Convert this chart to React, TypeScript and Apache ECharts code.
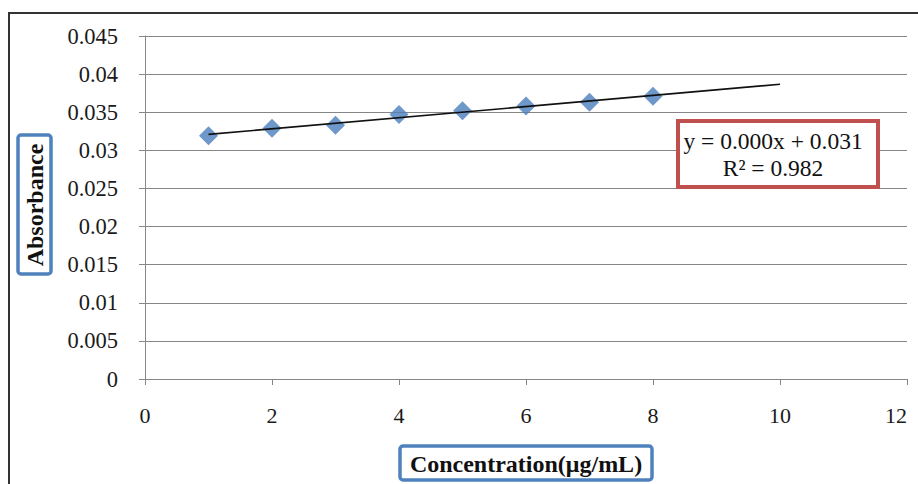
import React, { useEffect, useRef } from "react";
import * as echarts from "echarts";

const concentrations = [1, 2, 3, 4, 5, 6, 7, 8];
const absorbance = [0.0319, 0.0329, 0.0333, 0.0347, 0.0352, 0.0358, 0.0363, 0.0371];
const xTicks = { min: 0, max: 12, interval: 2 };
const yTicks = { min: 0, max: 0.045, interval: 0.005 };
const trendRange = [1, 10];
const equationLines = ["y = 0.000x + 0.031", "R\u00B2 = 0.982"];
const xTitle = "Concentration(\u03BCg/mL)";
const yTitle = "Absorbance";

function regression(xs: number[], ys: number[]) {
  const n = xs.length;
  const mx = xs.reduce((a, b) => a + b, 0) / n;
  const my = ys.reduce((a, b) => a + b, 0) / n;
  let sxy = 0, sxx = 0;
  for (let i = 0; i < n; i++) {
    sxy += (xs[i] - mx) * (ys[i] - my);
    sxx += (xs[i] - mx) * (xs[i] - mx);
  }
  const slope = sxy / sxx;
  return { slope, intercept: my - slope * mx };
}

const FONT = "'Liberation Serif', 'Times New Roman', serif";

export default function App() {
  const ref = useRef<HTMLDivElement>(null);
  useEffect(() => {
    if (!ref.current) return;
    const chart = echarts.init(ref.current, null, { renderer: "svg" });
    const { slope, intercept } = regression(concentrations, absorbance);
    const trend = trendRange.map((x) => [x, intercept + slope * x]);
    chart.setOption({
      animation: false,
      backgroundColor: "#ffffff",
      grid: { left: 145, right: 11, top: 36, bottom: 105 },
      xAxis: {
        type: "value",
        min: xTicks.min,
        max: xTicks.max,
        interval: xTicks.interval,
        axisLine: { show: true, lineStyle: { color: "#868686", width: 1 } },
        axisTick: { show: true, length: 6, lineStyle: { color: "#868686" } },
        splitLine: { show: false },
        axisLabel: {
          color: "#1a1a1a",
          fontFamily: FONT,
          fontSize: 22,
          margin: 25,
          alignMaxLabel: "right",
        },
      },
      yAxis: {
        type: "value",
        min: yTicks.min,
        max: yTicks.max,
        interval: yTicks.interval,
        axisLine: { show: true, lineStyle: { color: "#868686", width: 1 } },
        axisTick: { show: true, length: 6, lineStyle: { color: "#868686" } },
        splitLine: { show: true, lineStyle: { color: "#868686", width: 1 } },
        axisLabel: {
          color: "#1a1a1a",
          fontFamily: FONT,
          fontSize: 22.5,
          margin: 27,
          formatter: (v: number) => String(+v.toFixed(3)),
        },
      },
      series: [
        {
          type: "scatter",
          data: concentrations.map((x, i) => [x, absorbance[i]]),
          symbol: "diamond",
          symbolSize: 19,
          itemStyle: { color: "#4a7ebb" },
          z: 2,
        },
        {
          type: "line",
          data: trend,
          symbol: "none",
          lineStyle: { color: "#111111", width: 1.6 },
          z: 3,
        },
      ],
      graphic: [
        {
          type: "rect",
          x: 9,
          y: 13,
          shape: { width: 1000, height: 1000 },
          style: { fill: "none", stroke: "#333333", lineWidth: 2 },
          z: 10,
        },
        {
          type: "rect",
          x: 18,
          y: 135,
          shape: { width: 33, height: 139, r: 3 },
          style: { fill: "#ffffff", stroke: "#4f81bd", lineWidth: 3.5 },
          z: 10,
        },
        {
          type: "text",
          x: 35,
          y: 205,
          rotation: Math.PI / 2,
          style: {
            text: yTitle,
            fontFamily: FONT,
            fontWeight: "bold",
            fontSize: 24,
            fill: "#111111",
            align: "center",
            verticalAlign: "middle",
          },
          z: 11,
        },
        {
          type: "rect",
          x: 400,
          y: 446,
          shape: { width: 252, height: 34, r: 3 },
          style: { fill: "#ffffff", stroke: "#4f81bd", lineWidth: 3.5 },
          z: 10,
        },
        {
          type: "text",
          x: 526,
          y: 464,
          style: {
            text: xTitle,
            fontFamily: FONT,
            fontWeight: "bold",
            fontSize: 24,
            fill: "#111111",
            align: "center",
            verticalAlign: "middle",
          },
          z: 11,
        },
        {
          type: "rect",
          x: 678,
          y: 121,
          shape: { width: 200, height: 66 },
          style: { fill: "#ffffff", stroke: "#c0504d", lineWidth: 4 },
          z: 10,
        },
        {
          type: "text",
          x: 773,
          y: 154,
          style: {
            text: equationLines.join("\n"),
            fontFamily: FONT,
            fontSize: 23.5,
            lineHeight: 27,
            fill: "#111111",
            align: "center",
            verticalAlign: "middle",
          },
          z: 11,
        },
      ],
    });
    return () => chart.dispose();
  }, []);
  return (
    <div style={{ position: "fixed", left: 0, top: 0, width: 918, height: 484 }}>
      <div ref={ref} style={{ width: 918, height: 484 }} />
    </div>
  );
}
